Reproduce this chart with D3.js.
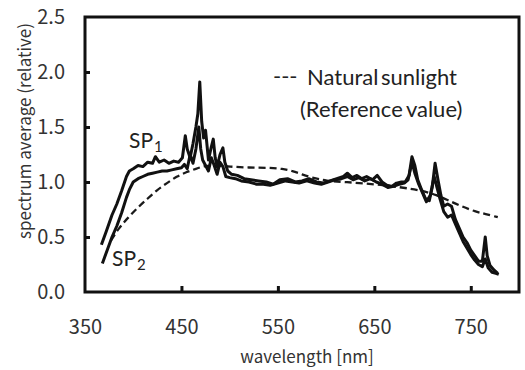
<!DOCTYPE html>
<html>
<head>
<meta charset="utf-8">
<script src="https://cdn.jsdelivr.net/npm/d3@7"></script>
<style>
  body { margin: 0; background: #fff; }
  svg { display: block; }
  .tick text { font-family: "Noto Sans CJK JP", "DejaVu Sans", sans-serif; font-size: 20px; fill: #333; }
</style>
</head>
<body>
<div id="root"></div>
<script>
// wavelength (nm) / relative spectrum
const sp1Wl = [367, 372, 378, 383, 388, 393, 396, 400, 405, 410, 415, 420, 423, 427, 432, 437, 442, 447, 451, 454,
  456, 459, 462, 465, 467, 469, 471, 473, 475, 478, 481, 483, 485, 487, 490, 493, 495, 498, 502, 508,
  515, 522, 530, 538, 545, 552, 560, 568, 575, 582, 590, 597, 604, 611, 618, 622, 627, 632, 637, 642,
  648, 653, 658, 663, 668, 673, 678, 682, 686, 689, 692, 695, 699, 703, 707, 710, 713, 716, 719, 722,
  726, 730, 734, 738, 742, 746, 750, 754, 758, 762, 765, 767, 770, 774, 778];
const sp1Val = [0.43, 0.55, 0.70, 0.80, 0.92, 1.05, 1.10, 1.12, 1.15, 1.14, 1.18, 1.17, 1.23, 1.18, 1.20, 1.17, 1.19, 1.18, 1.22, 1.42,
  1.30, 1.22, 1.35, 1.50, 1.62, 1.91, 1.55, 1.40, 1.47, 1.20, 1.32, 1.39, 1.22, 1.14, 1.25, 1.31, 1.18, 1.10, 1.07, 1.06,
  1.03, 1.02, 1.01, 1.00, 0.98, 1.02, 1.03, 1.00, 1.01, 1.03, 1.00, 0.99, 1.01, 1.03, 1.05, 1.08, 1.04, 1.06, 1.03, 1.05,
  1.02, 1.06, 1.00, 0.97, 0.96, 0.99, 1.00, 1.00, 1.06, 1.23, 1.15, 1.02, 0.93, 0.85, 0.83, 0.95, 1.17, 1.02, 0.88, 0.78,
  0.80, 0.78, 0.66, 0.58, 0.50, 0.45, 0.38, 0.33, 0.28, 0.28, 0.50, 0.33, 0.24, 0.20, 0.17];

const sp2Wl = [368, 373, 378, 383, 388, 393, 396, 400, 405, 410, 415, 420, 425, 430, 435, 440, 445, 450, 453, 456,
  459, 462, 465, 468, 470, 472, 475, 478, 481, 484, 487, 490, 493, 496, 500, 506, 512, 520, 528, 535,
  542, 550, 558, 565, 572, 580, 588, 595, 602, 609, 616, 622, 628, 634, 640, 646, 652, 658, 664, 670,
  676, 681, 685, 689, 692, 696, 700, 704, 708, 712, 715, 718, 722, 726, 730, 734, 738, 742, 746, 750,
  754, 758, 762, 765, 768, 772, 776, 779];
const sp2Val = [0.26, 0.38, 0.50, 0.60, 0.72, 0.86, 0.93, 1.00, 1.03, 1.05, 1.07, 1.08, 1.09, 1.10, 1.10, 1.11, 1.12, 1.13, 1.16, 1.12,
  1.25, 1.17, 1.30, 1.50, 1.30, 1.20, 1.15, 1.10, 1.22, 1.15, 1.07, 1.18, 1.14, 1.05, 1.04, 1.03, 1.01, 1.00, 0.98, 0.98,
  0.97, 0.99, 1.01, 1.00, 0.99, 1.01, 0.99, 0.98, 1.00, 1.02, 1.03, 1.05, 1.02, 1.04, 1.01, 1.03, 1.00, 0.98, 0.95, 0.96,
  0.98, 0.99, 1.02, 1.18, 1.08, 0.98, 0.90, 0.82, 0.88, 1.05, 0.95, 0.85, 0.73, 0.68, 0.70, 0.62, 0.54, 0.46, 0.40, 0.34,
  0.29, 0.25, 0.23, 0.30, 0.22, 0.18, 0.17, 0.16];

const sunWl = [377, 385, 395, 405, 415, 425, 435, 445, 455, 465, 475, 485, 500, 520, 540, 555, 565, 575, 585, 600,
  620, 650, 680, 700, 715, 725, 740, 755, 765, 778];
const sunVal = [0.47, 0.58, 0.68, 0.77, 0.85, 0.93, 0.99, 1.05, 1.09, 1.12, 1.15, 1.15, 1.14, 1.13, 1.13, 1.12, 1.10, 1.07, 1.04, 1.01,
  1.00, 0.98, 0.95, 0.92, 0.88, 0.84, 0.78, 0.73, 0.71, 0.68];

const xTicks = [350, 450, 550, 650, 750];
const yTicks = [0.0, 0.5, 1.0, 1.5, 2.0, 2.5];

const outerWidth = 525;
const outerHeight = 370;
const margin = { top: 17, right: 6, bottom: 78, left: 85 };
const width = outerWidth - margin.left - margin.right;
const height = outerHeight - margin.top - margin.bottom;

let scaleX = d3.scaleLinear().domain([350, 800]).range([0, width]);
let scaleY = d3.scaleLinear().domain([0, 2.5]).range([height, 0]);

let svg = d3.select("#root")
            .append("svg")
            .attr("width", outerWidth)
            .attr("height", outerHeight);

let chart = svg.append("g")
               .attr("transform", `translate(${margin.left}, ${margin.top})`);

let line = d3.line()
             .x(d => scaleX(d[0]))
             .y(d => scaleY(d[1]));

function zipSeries(wl, val) {
    return wl.map((w, i) => [w, val[i]]);
}

// axes: ticks point inward, labels sit well away from the frame
let yAxis = d3.axisLeft(scaleY)
              .tickValues(yTicks)
              .tickFormat(d3.format(".1f"))
              .tickSizeInner(-5)
              .tickSizeOuter(0)
              .tickPadding(20);
let xAxis = d3.axisBottom(scaleX)
              .tickValues(xTicks)
              .tickFormat(d3.format("d"))
              .tickSizeInner(-6)
              .tickSizeOuter(0)
              .tickPadding(28);

chart.append("g").attr("class", "y axis").call(yAxis);
chart.append("g").attr("class", "x axis")
     .attr("transform", `translate(0, ${height})`)
     .call(xAxis);

chart.selectAll(".axis .domain").remove();
chart.selectAll(".axis .tick line")
     .attr("stroke", "#111")
     .attr("stroke-width", 3);
// the end ticks coincide with the frame
chart.selectAll(".y.axis .tick line").filter(d => d === 0 || d === 2.5).remove();
chart.selectAll(".x.axis .tick line").filter(d => d === 350).remove();

chart.append("rect")
     .attr("x", 0)
     .attr("y", 0)
     .attr("width", width)
     .attr("height", height)
     .attr("fill", "none")
     .attr("stroke", "#111")
     .attr("stroke-width", 3);

chart.append("path")
     .datum(zipSeries(sunWl, sunVal))
     .attr("d", d3.line().curve(d3.curveBasis).x(d => scaleX(d[0])).y(d => scaleY(d[1])))
     .attr("fill", "none")
     .attr("stroke", "#1a1a1a")
     .attr("stroke-width", 2.3)
     .attr("stroke-dasharray", "7,4");

[zipSeries(sp2Wl, sp2Val), zipSeries(sp1Wl, sp1Val)].forEach(s => {
    chart.append("path")
         .datum(s)
         .attr("d", line)
         .attr("fill", "none")
         .attr("stroke", "#111")
         .attr("stroke-width", 3)
         .attr("stroke-linejoin", "round");
});

// axis titles
svg.append("text")
   .attr("x", 307)
   .attr("y", 363)
   .attr("text-anchor", "middle")
   .style("font-family", "'Noto Sans CJK JP', 'DejaVu Sans', sans-serif")
   .style("font-size", "17px")
   .attr("fill", "#333")
   .text("wavelength [nm]");

svg.append("text")
   .attr("transform", "translate(31, 131) rotate(-90)")
   .attr("text-anchor", "middle")
   .style("font-family", "'Noto Sans CJK JP', 'DejaVu Sans', sans-serif")
   .style("font-size", "17px")
   .attr("fill", "#333")
   .text("spectrum average (relative)");

// legend and series labels
let legendFont = "Lato, 'Open Sans', sans-serif";
svg.append("text")
   .attr("x", 273).attr("y", 84)
   .style("font-family", legendFont).style("font-size", "22px")
   .attr("fill", "#222")
   .text("---");
svg.append("text")
   .attr("x", 307).attr("y", 85)
   .style("font-family", legendFont).style("font-size", "22px")
   .style("word-spacing", "-3px")
   .attr("fill", "#222")
   .text("Natural sunlight");
svg.append("text")
   .attr("x", 300).attr("y", 117)
   .style("font-family", legendFont).style("font-size", "22px")
   .style("word-spacing", "-2px")
   .attr("fill", "#222")
   .text("(Reference value)");

function spLabel(x, y, sub) {
    let t = svg.append("text")
               .attr("x", x).attr("y", y)
               .style("font-family", legendFont).style("font-size", "21px")
               .attr("fill", "#222");
    t.append("tspan").text("SP");
    t.append("tspan").attr("dy", 4).attr("dx", 1).style("font-size", "15px").text(sub);
}
spLabel(129, 148, "1");
spLabel(112, 266, "2");
</script>
</body>
</html>
